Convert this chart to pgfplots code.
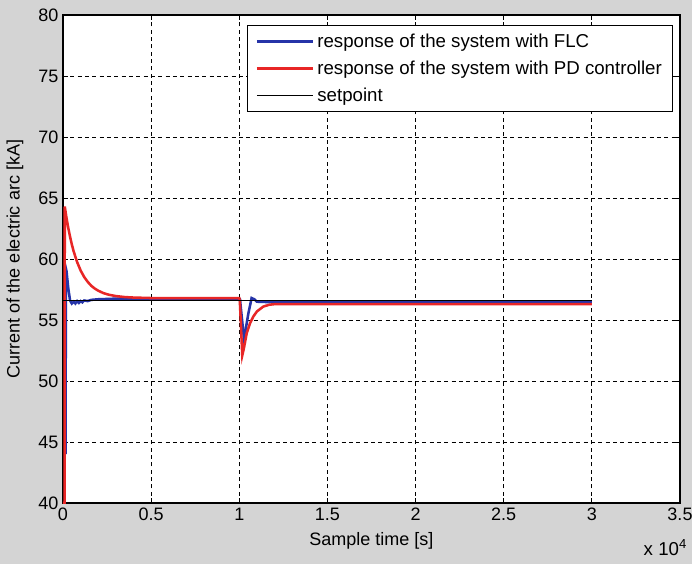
\documentclass[border=0pt]{standalone}
\usepackage{fontspec}
\setmainfont{Liberation Sans}
\usepackage{pgfplots}
\pgfplotsset{compat=1.18}
\definecolor{figgray}{RGB}{212,212,212}
\definecolor{mblue}{RGB}{38,52,168}
\definecolor{mred}{RGB}{232,38,38}
\begin{document}
\begin{tikzpicture}
\fill[figgray] (-47.25pt,-45.75pt) rectangle (471.75pt,377.25pt);
\begin{axis}[
  scale only axis,
  width=462.75pt, height=366pt,
  xmin=0, xmax=3.5, ymin=40, ymax=80,
  xtick={0,0.5,1,1.5,2,2.5,3,3.5},
  xticklabels={0,0.5,1,1.5,2,2.5,3,3.5},
  ytick={40,45,50,55,60,65,70,75,80},
  tick align=inside, xtick pos=both, ytick pos=both,
  major tick length=4pt,
  tick style={black, line width=0.6pt},
  axis line style={black, line width=0.8pt},
  axis background/.style={fill=white},
  grid=major,
  major grid style={black, line width=0.6pt, dash pattern=on 3pt off 2.5pt},
  ticklabel style={font=\fontsize{13.5}{16}\selectfont},
  /pgf/number format/assume math mode=true,
  xlabel={Sample time [s]},
  ylabel={Current of the electric arc [kA]},
  label style={font=\fontsize{13.5}{16}\selectfont},
  xlabel style={at={(axis description cs:0.5,-0.0779)}, anchor=center},
  ylabel style={at={(axis description cs:-0.0778,0.5)}, anchor=center, rotate=0},
  legend style={at={(axis description cs:0.9887,0.9795)}, anchor=north east,
    draw=black, line width=0.8pt, fill=white, font=\fontsize{14}{16.5}\selectfont,
    row sep=4.6pt, inner xsep=6pt, inner ysep=4pt,
    /tikz/every even column/.append style={column sep=3pt}},
  legend cell align=left,
  legend image code/.code={\draw[#1] (0pt,0pt) -- (42.5pt,0pt);},
  clip=true,
]
\addplot[mblue, line width=1.9pt] coordinates {
(0.015,44) (0.016,59.25) (0.02,59.0) (0.03,57.6) (0.04,56.6) (0.05,56.35)
(0.06,56.5) (0.07,56.35) (0.08,56.55) (0.09,56.4) (0.10,56.55) (0.11,56.45)
(0.12,56.6) (0.14,56.55) (0.16,56.65) (0.2,56.7) (0.3,56.75) (1.0,56.75)
(1.004,56.7) (1.027,53.4) (1.051,55.5) (1.07,56.8) (1.085,56.7) (1.10,56.5)
(1.2,56.45) (3.0,56.45)
};
\addlegendentry{response of the system with FLC}
\addplot[mred, line width=1.9pt] coordinates {
(0,40) (0.009,40) (0.01,64.3) (0.02,63.36) (0.03,62.54) (0.04,61.83)
(0.05,61.2) (0.06,60.65) (0.08,59.75) (0.10,59.06) (0.12,58.53) (0.14,58.13)
(0.16,57.81) (0.18,57.58) (0.20,57.4) (0.23,57.2) (0.26,57.07) (0.30,56.96)
(0.35,56.88) (0.40,56.84) (0.5,56.8) (1.0,56.8) (1.003,56.6) (1.017,52.1)
(1.025,52.6) (1.042,53.9) (1.06,54.7) (1.079,55.27) (1.10,55.7) (1.136,56.1)
(1.17,56.25) (1.20,56.3) (1.3,56.3) (3.0,56.3)
};
\addlegendentry{response of the system with PD controller}
\addplot[black, line width=0.8pt] coordinates {(0,56.6) (3.0,56.6)};
\addlegendentry{setpoint}
\end{axis}
\node[anchor=east, font=\fontsize{14}{16}\selectfont] at (471.5pt,-33.75pt) {x 10\textsuperscript{4}};
\pgfresetboundingbox
\path (-47.25pt,-45.75pt) rectangle (471.75pt,377.25pt);
\end{tikzpicture}
\end{document}
